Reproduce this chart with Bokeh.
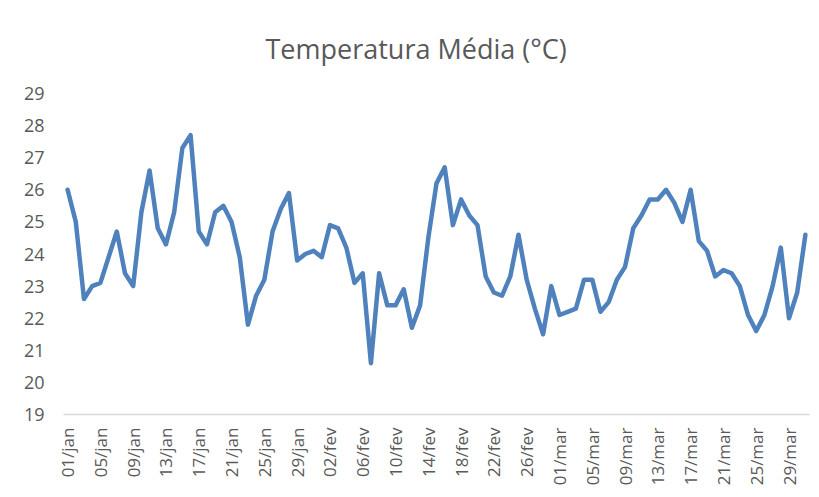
import math
from bokeh.plotting import figure
from bokeh.models import Range1d, FixedTicker, ColumnDataSource
from bokeh.embed import file_html
from bokeh.resources import INLINE

# ---- data -------------------------------------------------------------
title_text = "Temperatura Média (°C)"

months = ["jan", "fev", "mar"]
month_days = [31, 29, 31]          # 2020 (bissexto)

temperature = [
    26.0, 25.0, 22.6, 23.0, 23.1, 23.9, 24.7, 23.4, 23.0, 25.3,
    26.6, 24.8, 24.3, 25.3, 27.3, 27.7, 24.7, 24.3, 25.3, 25.5,
    25.0, 23.9, 21.8, 22.7, 23.2, 24.7, 25.4, 25.9, 23.8, 24.0,
    24.1, 23.9, 24.9, 24.8, 24.2, 23.1, 23.4, 20.6, 23.4, 22.4,
    22.4, 22.9, 21.7, 22.4, 24.5, 26.2, 26.7, 24.9, 25.7, 25.2,
    24.9, 23.3, 22.8, 22.7, 23.3, 24.6, 23.2, 22.3, 21.5, 23.0,
    22.1, 22.2, 22.3, 23.2, 23.2, 22.2, 22.5, 23.2, 23.6, 24.8,
    25.2, 25.7, 25.7, 26.0, 25.6, 25.0, 26.0, 24.4, 24.1, 23.3,
    23.5, 23.4, 23.0, 22.1, 21.6, 22.1, 23.0, 24.2, 22.0, 22.8,
    24.6,
]

x_tick_labels = [
    "01/jan", "05/jan", "09/jan", "13/jan", "17/jan", "21/jan", "25/jan",
    "29/jan", "02/fev", "06/fev", "10/fev", "14/fev", "18/fev", "22/fev",
    "26/fev", "01/mar", "05/mar", "09/mar", "13/mar", "17/mar", "21/mar",
    "25/mar", "29/mar",
]
y_ticks = [19, 20, 21, 22, 23, 24, 25, 26, 27, 28, 29]

# category labels for every day
dates = [f"{d:02d}/{m}" for m, n in zip(months, month_days) for d in range(1, n + 1)]
day_index = list(range(len(dates)))
x_ticks = [dates.index(lbl) for lbl in x_tick_labels]

source = ColumnDataSource(data=dict(x=day_index, y=temperature, date=dates))

# ---- figure -----------------------------------------------------------
TEXT = "#595959"
FONT = "Open Sans"

p = figure(
    width=811, height=489,
    output_backend="svg", toolbar_location=None,
    x_range=Range1d(-0.5, len(dates) - 0.5),
    y_range=Range1d(y_ticks[0], y_ticks[-1]),
    min_border_left=63, min_border_right=2,
    min_border_top=93, min_border_bottom=75,
    background_fill_color="white", border_fill_color="white",
    outline_line_color=None,
    title=title_text,
)

p.title.align = "left"
p.title.offset = 202
p.title.standoff = 53
p.title.text_font = FONT
p.title.text_font_size = "27px"
p.title.text_font_style = "normal"
p.title.text_color = TEXT

p.line("x", "y", source=source, line_color="#4F81BD", line_width=4.5,
       line_join="round", line_cap="round")

p.xgrid.visible = False
p.ygrid.visible = False

xa = p.xaxis[0]
xa.ticker = FixedTicker(ticks=x_ticks)
xa.major_label_overrides = {t: l for t, l in zip(x_ticks, x_tick_labels)}
xa.major_label_orientation = math.pi / 2
xa.axis_line_color = "#d9d9d9"
xa.axis_line_width = 1.5
xa.major_tick_line_color = None
xa.minor_tick_line_color = None
xa.major_tick_out = 0
xa.major_tick_in = 0
xa.major_label_standoff = 13
xa.major_label_text_font = FONT
xa.major_label_text_font_size = "17px"
xa.major_label_text_color = TEXT

ya = p.yaxis[0]
ya.ticker = FixedTicker(ticks=y_ticks)
ya.axis_line_color = None
ya.major_tick_line_color = None
ya.minor_tick_line_color = None
ya.major_tick_out = 0
ya.major_tick_in = 0
ya.major_label_standoff = 19
ya.major_label_text_font = FONT
ya.major_label_text_font_size = "18px"
ya.major_label_text_color = TEXT

open("out.html", "w").write(file_html(p, INLINE))
